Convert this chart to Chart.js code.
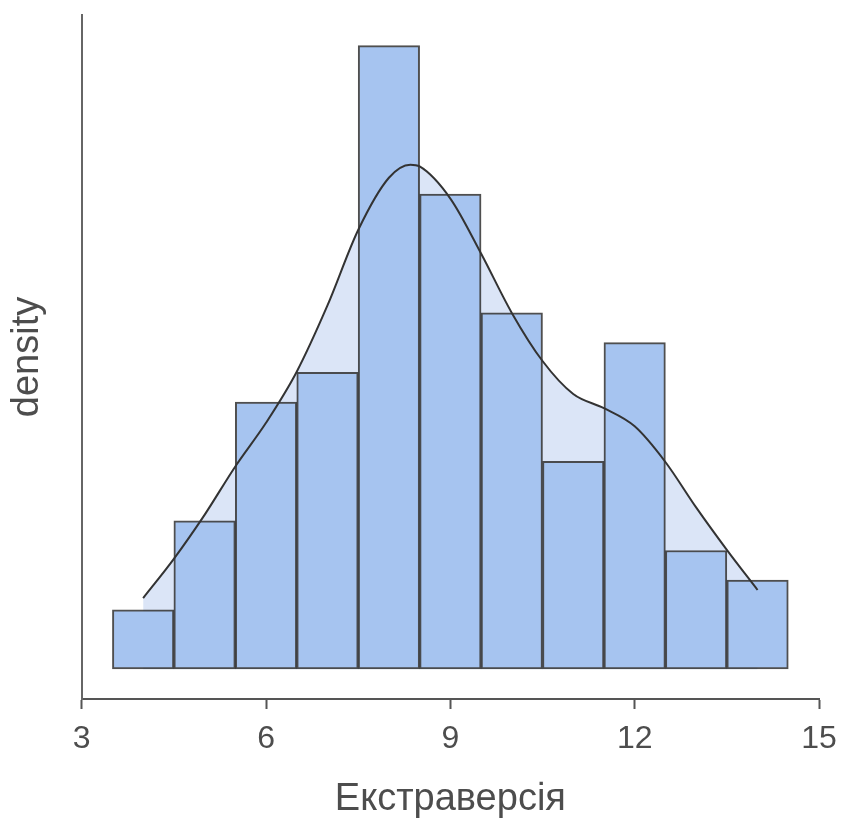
<!DOCTYPE html>
<html>
<head>
<meta charset="utf-8">
<script src="https://cdn.jsdelivr.net/npm/chart.js@4/dist/chart.umd.min.js"></script>
<style>
  html, body { margin: 0; padding: 0; background: #fff; }
  #wrap { width: 844px; height: 831px; }
</style>
</head>
<body>
<div id="wrap"><canvas id="chart" width="844" height="831"></canvas></div>
<script>
// histogram bins (centres) and densities
const bins = [4, 5, 6, 7, 8, 9, 10, 11, 12, 13, 14];
const density = [0.02, 0.05, 0.09, 0.10, 0.21, 0.16, 0.12, 0.07, 0.11, 0.04, 0.03];

// density curve
const kdeX = [4, 4.5, 5, 5.5, 6, 6.5, 7, 7.5, 8, 8.35, 8.5, 9, 9.5, 10, 10.5, 11, 11.5, 12, 12.5, 13, 13.5, 14];
const kdeY = [0.024, 0.0372, 0.052, 0.0683, 0.083, 0.1002, 0.1225, 0.1479, 0.1655, 0.1699, 0.1693, 0.1585, 0.14, 0.12, 0.1038, 0.0927, 0.0879, 0.0818, 0.0698, 0.0545, 0.0402, 0.0267];

const xTicks = [3, 6, 9, 12, 15];
const xTitle = 'Екстраверсія';
const yTitle = 'density';

const font = '"Liberation Sans", Arial, sans-serif';
const textCol = '#4d4d4d';
const axisCol = '#555555';

const bars = bins.map((b, i) => ({ x: b, y: density[i] }));
const curve = kdeX.map((x, i) => ({ x: x, y: kdeY[i] }));

new Chart(document.getElementById('chart'), {
    type: 'bar',
    data: {
        datasets: [
            {
                type: 'line',
                data: curve,
                fill: 'origin',
                backgroundColor: '#dbe5f7',
                borderWidth: 0,
                pointRadius: 0,
                cubicInterpolationMode: 'monotone',
                order: 3
            },
            {
                type: 'bar',
                data: bars,
                backgroundColor: '#a6c4f0',
                borderColor: 'rgba(40,40,40,0.82)',
                borderWidth: 2,
                borderSkipped: false,
                barPercentage: 1,
                categoryPercentage: 1,
                order: 2
            },
            {
                type: 'line',
                data: curve,
                fill: false,
                borderColor: '#333333',
                borderWidth: 2,
                pointRadius: 0,
                cubicInterpolationMode: 'monotone',
                order: 1
            }
        ]
    },
    options: {
        responsive: false,
        animation: false,
        layout: { padding: { top: 15, right: 25, left: 0, bottom: 0 } },
        plugins: {
            legend: { display: false },
            tooltip: { enabled: false }
        },
        scales: {
            x: {
                type: 'linear',
                min: 3,
                max: 15,
                offset: false,
                afterBuildTicks: (s) => { s.ticks = xTicks.map(v => ({ value: v })); },
                afterFit: (s) => { s.height = 132; s.paddingLeft = 0; s.paddingRight = 0; },
                grid: { display: true, offset: false, drawOnChartArea: false, drawTicks: true, tickLength: 10, tickWidth: 2, color: axisCol },
                border: { display: true, color: axisCol, width: 2 },
                ticks: { color: textCol, font: { family: font, size: 32 }, padding: 11 },
                title: { display: true, text: xTitle, color: textCol, font: { family: font, size: 38 }, padding: { top: 0, bottom: 9 } }
            },
            y: {
                min: -0.01,
                max: 0.2203,
                afterFit: (s) => { s.width = 81.7; },
                grid: { display: true, drawOnChartArea: false, drawTicks: false },
                border: { display: true, color: '#666666', width: 2 },
                ticks: { display: false },
                title: { display: true, text: yTitle, color: textCol, font: { family: font, size: 38 }, padding: { top: 5, bottom: 0 } }
            }
        }
    }
});
</script>
</body>
</html>
